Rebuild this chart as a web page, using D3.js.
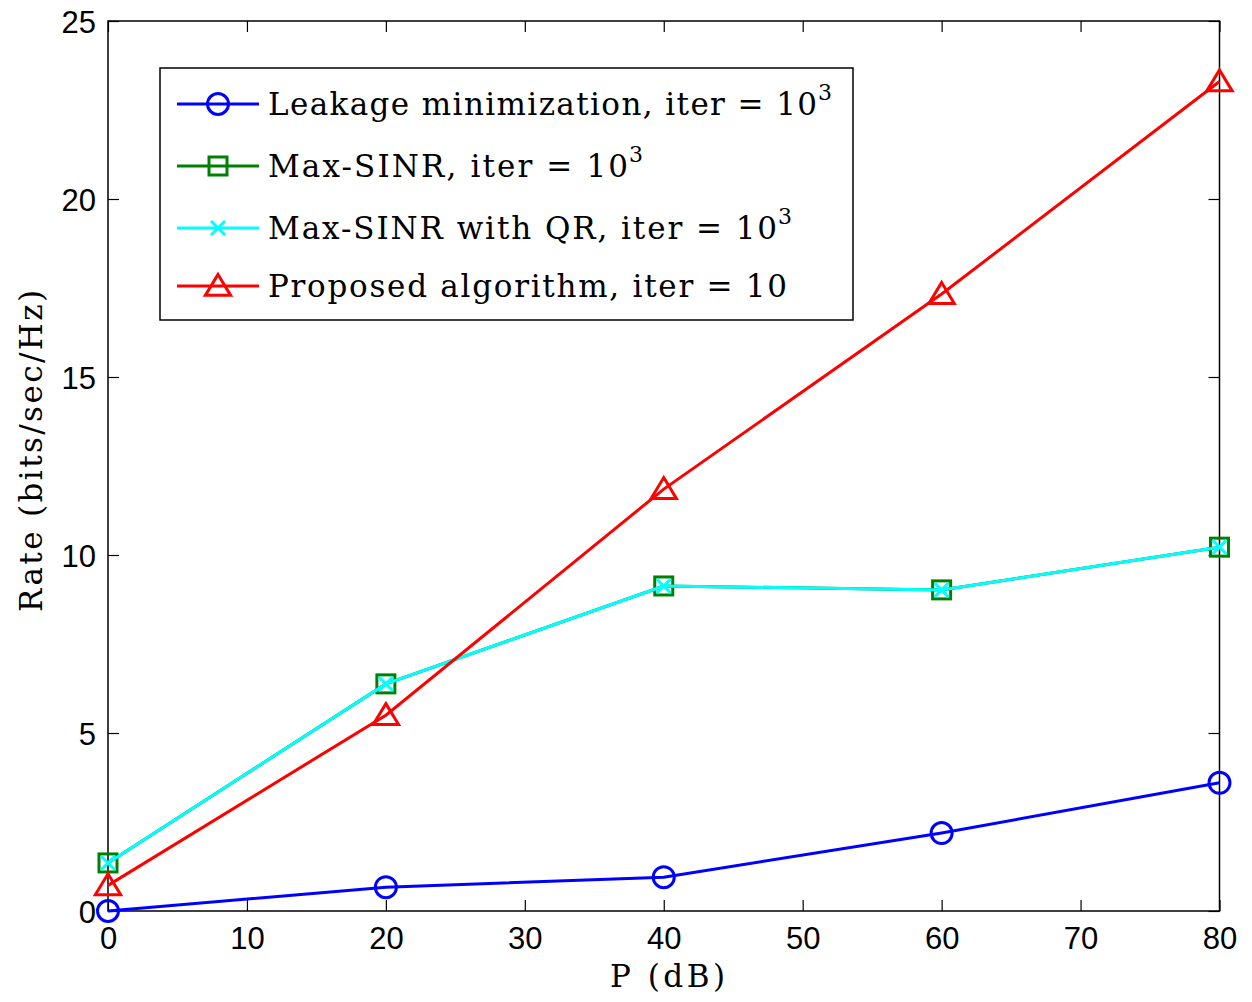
<!DOCTYPE html>
<html><head><meta charset="utf-8">
<script src="https://cdn.jsdelivr.net/npm/d3@7"></script>
<style>body{margin:0;background:#fff}svg{display:block}</style>
</head><body><svg id="c" width="1252" height="1002"></svg>
<script>
const xValues = [0, 20, 40, 60, 80];
const leakage = [0, 0.67, 0.95, 2.19, 3.6];
const maxSinr = [1.35, 6.38, 9.13, 9.02, 10.22];
const maxSinrQR = [1.35, 6.38, 9.13, 9.02, 10.22];
const proposed = [0.72, 5.5, 11.85, 17.33, 23.3];
const xTicks = [0, 10, 20, 30, 40, 50, 60, 70, 80];
const yTicks = [0, 5, 10, 15, 20, 25];
const seriesNames = ["Leakage minimization, iter = 10", "Max-SINR, iter = 10", "Max-SINR with QR, iter = 10", "Proposed algorithm, iter = 10"];
const seriesSup = ["3", "3", "3", ""];
const seriesColors = ["#0000ff", "#008000", "#00ffff", "#ff0000"];
const seriesMarkers = ["circle", "square", "x", "triangle"];

const svg = d3.select("#c");
const L = 108, R = 1219.5, T = 21, B = 911;
const x = d3.scaleLinear().domain([0, 80]).range([L, R]);
const y = d3.scaleLinear().domain([0, 25]).range([B, T]);
const tickFont = "'Liberation Sans', Arial, sans-serif";
const serif = "'DejaVu Serif', 'Liberation Serif', serif";

svg.append("rect").attr("x", L).attr("y", T).attr("width", R - L).attr("height", B - T)
  .attr("fill", "none").attr("stroke", "#000").attr("stroke-width", 1.5);

const tl = 11;
const gxb = svg.append("g").attr("transform", `translate(0,${B})`)
  .call(d3.axisBottom(x).tickValues(xTicks).tickSizeInner(-tl).tickSizeOuter(0).tickPadding(16));
const gxt = svg.append("g").attr("transform", `translate(0,${T})`)
  .call(d3.axisTop(x).tickValues(xTicks).tickSizeInner(-tl).tickSizeOuter(0).tickFormat(""));
const gyl = svg.append("g").attr("transform", `translate(${L},0)`)
  .call(d3.axisLeft(y).tickValues(yTicks).tickSizeInner(-tl).tickSizeOuter(0).tickPadding(12));
const gyr = svg.append("g").attr("transform", `translate(${R},0)`)
  .call(d3.axisRight(y).tickValues(yTicks).tickSizeInner(-tl).tickSizeOuter(0).tickFormat(""));
[gxb, gxt, gyl, gyr].forEach(g => {
  g.select(".domain").remove();
  g.selectAll("line").attr("stroke", "#000").attr("stroke-width", 1.2);
  g.selectAll("text").attr("font-family", tickFont).attr("font-size", 31).attr("fill", "#000");
});
gxb.selectAll("text").attr("dy", "0.71em");
gyl.selectAll("text").attr("dy", "0.36em");

const allSeries = [leakage, maxSinr, maxSinrQR, proposed];
const line = d3.line().x((d, i) => x(xValues[i])).y(d => y(d));

function marker(g, type, color, cx, cy) {
  if (type === "circle") {
    g.append("circle").attr("cx", cx).attr("cy", cy).attr("r", 10.5)
      .attr("fill", "none").attr("stroke", color).attr("stroke-width", 3);
  } else if (type === "square") {
    g.append("rect").attr("x", cx - 9).attr("y", cy - 9).attr("width", 18).attr("height", 18)
      .attr("fill", "none").attr("stroke", color).attr("stroke-width", 3);
  } else if (type === "x") {
    const s = 7;
    g.append("path").attr("d", `M${cx - s},${cy - s}L${cx + s},${cy + s}M${cx - s},${cy + s}L${cx + s},${cy - s}`)
      .attr("stroke", color).attr("stroke-width", 3).attr("fill", "none");
  } else if (type === "triangle") {
    const h = 11;
    g.append("path").attr("d", `M${cx},${cy - h * 1.05}L${cx + h * 1.15},${cy + h * 0.85}L${cx - h * 1.15},${cy + h * 0.85}Z`)
      .attr("fill", "none").attr("stroke", color).attr("stroke-width", 3).attr("stroke-linejoin", "miter");
  }
}

allSeries.forEach((vals, si) => {
  const g = svg.append("g");
  g.append("path").attr("d", line(vals)).attr("fill", "none")
    .attr("stroke", seriesColors[si]).attr("stroke-width", 3);
  vals.forEach((v, i) => marker(g, seriesMarkers[si], seriesColors[si], x(xValues[i]), y(v)));
});

// legend
const lg = svg.append("g");
lg.append("rect").attr("x", 160).attr("y", 68).attr("width", 693).attr("height", 252)
  .attr("fill", "#fff").attr("stroke", "#000").attr("stroke-width", 1.5);
const rowY = [104, 166, 228, 286];
const textLens = [549, 360, 509, 519];
seriesNames.forEach((name, i) => {
  const yy = rowY[i];
  lg.append("line").attr("x1", 177).attr("x2", 259).attr("y1", yy).attr("y2", yy)
    .attr("stroke", seriesColors[i]).attr("stroke-width", 3);
  marker(lg, seriesMarkers[i], seriesColors[i], 218, yy);
  const t = lg.append("text").attr("x", 268).attr("y", yy + 11)
    .attr("font-family", serif).attr("font-size", 31).attr("fill", "#000");
  t.append("tspan").attr("textLength", textLens[i]).attr("lengthAdjust", "spacing").text(name);
  if (seriesSup[i]) t.append("tspan").attr("x", 268 + textLens[i] + 1).attr("dy", -15).attr("font-size", 22).text(seriesSup[i]);
});

// axis labels
svg.append("text").attr("x", 610).attr("y", 987)
  .attr("font-family", serif).attr("font-size", 31).attr("textLength", 115).attr("lengthAdjust", "spacing").text("P (dB)");
svg.append("text").attr("transform", `translate(42,612) rotate(-90)`)
  .attr("font-family", serif).attr("font-size", 31).attr("textLength", 322).attr("lengthAdjust", "spacing").text("Rate (bits/sec/Hz)");
</script></body></html>
